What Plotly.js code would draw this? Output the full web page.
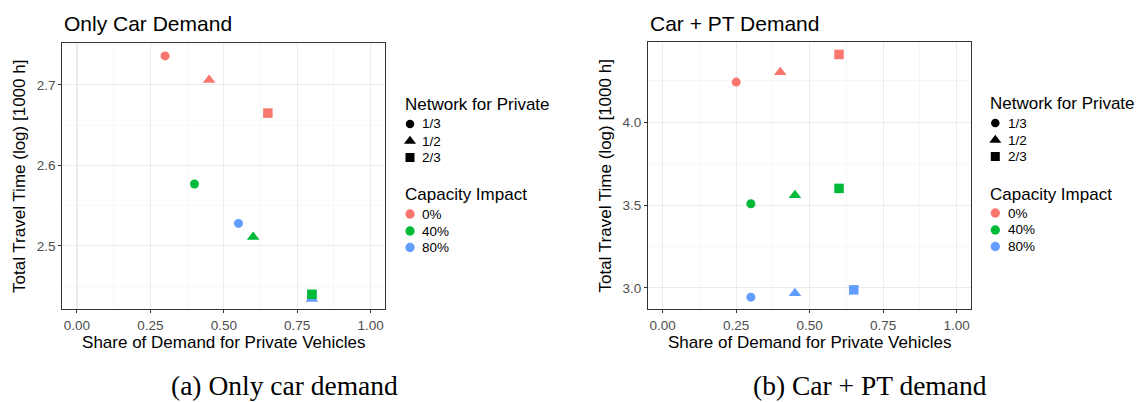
<!DOCTYPE html>
<html>
<head>
<meta charset="utf-8">
<script src="https://cdn.plot.ly/plotly-3.0.1.min.js"></script>
<style>
  html, body { margin: 0; padding: 0; background: #ffffff; }
  #chart { width: 1137px; height: 402px; }
</style>
</head>
<body>
<div id="chart"></div>
<script>
// ---------------- DATA ----------------
const networkLabels = ['1/3', '1/2', '2/3'];          // Network for Private (shape)
const capacityLabels = ['0%', '40%', '80%'];          // Capacity Impact (colour)

// (a) Only car demand: one row per capacity impact, columns follow networkLabels
const carOnlyShare = [
  [0.30, 0.45, 0.65],
  [0.40, 0.60, 0.80],
  [0.55, 0.80, 0.80]
];
const carOnlyTime = [
  [2.736, 2.706, 2.665],
  [2.577, 2.511, 2.440],
  [2.528, 2.434, 2.439]
];

// (b) Car + PT demand
const carPtShare = [
  [0.25, 0.40, 0.60],
  [0.30, 0.45, 0.60],
  [0.30, 0.45, 0.65]
];
const carPtTime = [
  [4.243, 4.302, 4.410],
  [3.508, 3.560, 3.601],
  [2.944, 2.968, 2.988]
];

const panelTitles = ['Only Car Demand', 'Car + PT Demand'];
const captions = ['(a) Only car demand', '(b) Car + PT demand'];
const xTickVals = [0, 0.25, 0.5, 0.75, 1];
const yTickValsA = [2.5, 2.6, 2.7];
const yTickValsB = [3.0, 3.5, 4.0];

// ---------------- STYLE ----------------
const W = 1137, H = 402;
const SANS = 'Liberation Sans, Arial, Helvetica, sans-serif';
const SERIF = 'Liberation Serif, Times New Roman, serif';
const capColors = ['#F8766D', '#00BA38', '#619CFF'];
const shapeSymbols = ['circle', 'triangle-up', 'square'];
const shapeSizes = [9, 11, 9.5];
const px = v => v / W;
const py = v => 1 - v / H;

// ---------------- TRACES ----------------
const traces = [];
function addPanel(shares, times, xa, ya) {
  // draw 80% first so that green sits on top, as in the reference
  for (let c = capacityLabels.length - 1; c >= 0; c--) {
    traces.push({
      type: 'scatter', mode: 'markers',
      x: shares[c], y: times[c],
      xaxis: xa, yaxis: ya,
      name: capacityLabels[c],
      text: networkLabels,
      showlegend: false,
      cliponaxis: false,
      marker: { color: capColors[c], symbol: shapeSymbols, size: shapeSizes, opacity: 1, line: { width: 0 } }
    });
  }
}
addPanel(carOnlyShare, carOnlyTime, 'x', 'y');
addPanel(carPtShare, carPtTime, 'x2', 'y2');

// legend keys (drawn on a hidden pixel-space overlay axis)
const legendOrigins = [
  { x: 402.7, netY: 105, capY: 195 },
  { x: 988, netY: 104, capY: 194 }
];
const itemOffsets = [19, 36, 52.5];
const annotations = [];
legendOrigins.forEach(o => {
  traces.push({
    type: 'scatter', mode: 'markers', xaxis: 'x3', yaxis: 'y3', showlegend: false, hoverinfo: 'skip',
    x: networkLabels.map(() => o.x + 7.3),
    y: itemOffsets.map(d => o.netY + d),
    marker: { color: '#000000', symbol: shapeSymbols, size: [8.5, 10.5, 9], opacity: 1, line: { width: 0 } }
  });
  traces.push({
    type: 'scatter', mode: 'markers', xaxis: 'x3', yaxis: 'y3', showlegend: false, hoverinfo: 'skip',
    x: capacityLabels.map(() => o.x + 7.3),
    y: itemOffsets.map(d => o.capY + d),
    marker: { color: capColors, symbol: 'circle', size: 9.3, opacity: 1, line: { width: 0 } }
  });
  annotations.push({ xref: 'paper', yref: 'paper', x: px(o.x), y: py(o.netY), xanchor: 'left', yanchor: 'middle',
    text: 'Network for Private', showarrow: false, font: { family: SANS, size: 17, color: '#000000' } });
  annotations.push({ xref: 'paper', yref: 'paper', x: px(o.x), y: py(o.capY), xanchor: 'left', yanchor: 'middle',
    text: 'Capacity Impact', showarrow: false, font: { family: SANS, size: 17, color: '#000000' } });
  networkLabels.forEach((t, i) => annotations.push({ xref: 'paper', yref: 'paper', x: px(o.x + 17.5), y: py(o.netY + itemOffsets[i]),
    xanchor: 'left', yanchor: 'middle', text: t, showarrow: false, font: { family: SANS, size: 13.5, color: '#000000' } }));
  capacityLabels.forEach((t, i) => annotations.push({ xref: 'paper', yref: 'paper', x: px(o.x + 17.5), y: py(o.capY + itemOffsets[i]),
    xanchor: 'left', yanchor: 'middle', text: t, showarrow: false, font: { family: SANS, size: 13.5, color: '#000000' } }));
});

// panel titles & captions
const panelLeft = [62.3, 648];
panelTitles.forEach((t, i) => annotations.push({ xref: 'paper', yref: 'paper', x: px(panelLeft[i]), y: py(23.5),
  xanchor: 'left', yanchor: 'middle', text: t, showarrow: false, font: { family: SANS, size: 21, color: '#000000' } }));
const captionX = [284.7, 870];
captions.forEach((t, i) => annotations.push({ xref: 'paper', yref: 'paper', x: px(captionX[i]), y: py(385),
  xanchor: 'center', yanchor: 'middle', text: t, showarrow: false, font: { family: SERIF, size: 27.5, color: '#000000' } }));

// ---------------- AXES ----------------
function xAxis(domain) {
  return {
    domain: domain, range: [-0.05, 1.05], tickvals: xTickVals, tickformat: '.2f',
    showgrid: true, gridcolor: '#ebebeb', gridwidth: 1.1, zeroline: false,
    minor: { dtick: 0.125, tick0: 0, showgrid: true, gridcolor: '#f2f2f2', gridwidth: 0.6, ticks: '' },
    showline: true, mirror: true, linecolor: '#333333', linewidth: 1,
    ticks: 'outside', ticklen: 3, tickwidth: 1, tickcolor: '#333333',
    tickfont: { family: SANS, size: 13.5, color: '#4d4d4d' },
    title: { text: 'Share of Demand for Private Vehicles', font: { family: SANS, size: 17, color: '#000000' }, standoff: 4 },
    fixedrange: true
  };
}
function yAxis(domain, range, vals, dtick, minorDtick, anchor) {
  return {
    domain: domain, range: range, tickvals: vals, tickformat: '.1f', anchor: anchor,
    showgrid: true, gridcolor: '#ebebeb', gridwidth: 1.1, zeroline: false,
    minor: { dtick: minorDtick, tick0: vals[0], showgrid: true, gridcolor: '#f2f2f2', gridwidth: 0.6, ticks: '' },
    showline: true, mirror: true, linecolor: '#333333', linewidth: 1,
    ticks: 'outside', ticklen: 3, tickwidth: 1, tickcolor: '#333333',
    tickfont: { family: SANS, size: 13.5, color: '#4d4d4d' },
    title: { text: 'Total Travel Time (log) [1000 h]', font: { family: SANS, size: 17, color: '#000000' }, standoff: 6 },
    fixedrange: true
  };
}

const layout = {
  width: W, height: H,
  margin: { l: 0, r: 0, t: 0, b: 0, pad: 0 },
  paper_bgcolor: '#ffffff', plot_bgcolor: 'rgba(0,0,0,0)',
  showlegend: false,
  font: { family: SANS, color: '#000000' },
  xaxis: Object.assign(xAxis([px(62.3), px(385.3)]), { anchor: 'y' }),
  yaxis: yAxis([py(309.3), py(43.3)], [2.4213, 2.7517], yTickValsA, 0.1, 0.05, 'x'),
  xaxis2: Object.assign(xAxis([px(648), px(971.3)]), { anchor: 'y2' }),
  yaxis2: yAxis([py(309.3), py(42.3)], [2.8707, 4.4833], yTickValsB, 0.5, 0.25, 'x2'),
  xaxis3: { domain: [0, 1], range: [0, W], visible: false, anchor: 'y3', fixedrange: true },
  yaxis3: { domain: [0, 1], range: [H, 0], visible: false, anchor: 'x3', fixedrange: true },
  annotations: annotations
};

Plotly.newPlot('chart', traces, layout, { staticPlot: true, displayModeBar: false });
</script>
</body>
</html>
